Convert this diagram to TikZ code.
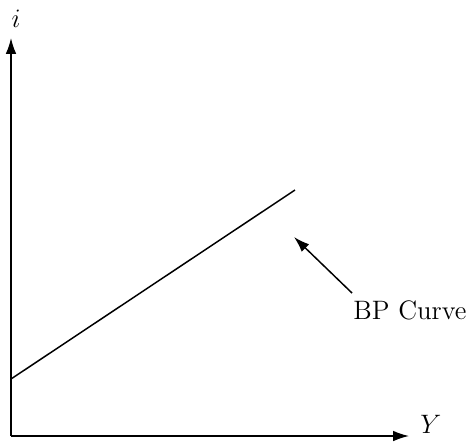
\documentclass[tikz,border=0pt]{standalone}
\usetikzlibrary{arrows.meta}

\begin{document}
\begin{tikzpicture}[x=0.54pt, y=-0.54pt,
        axis/.style={thick, -{Latex[length=3mm, width=2mm]}},
        curve/.style={thick},
        pointer/.style={thick, -{Latex[length=3mm, width=2mm]}}
    ]
    \useasboundingbox (0,0) rectangle (469,441);

    % axes
    \coordinate (origin) at (11,436);
    \coordinate (ytop) at (11,38);
    \coordinate (xend) at (409,436);
    \draw [axis] (origin) -- (ytop);
    \draw [axis] (origin) -- (xend);
    \node (ilabel) [anchor=base, inner sep=0pt, font=\Large] at (16,27) {$i$};
    \node (Ylabel) [anchor=base west, inner sep=0pt, font=\Large] at (420,433) {$Y$};

    % BP curve
    \coordinate (bpstart) at (11,379);
    \coordinate (bpend) at (295,190);
    \draw [curve] (bpstart) -- (bpend);

    \node (bplabel) [anchor=base west, inner sep=0pt, font=\Large] at (353,319) {BP Curve};
    \coordinate (tail) at (352,293);
    \coordinate (tip) at (294,237);
    \draw [pointer] (tail) -- (tip);
\end{tikzpicture}
\end{document}
